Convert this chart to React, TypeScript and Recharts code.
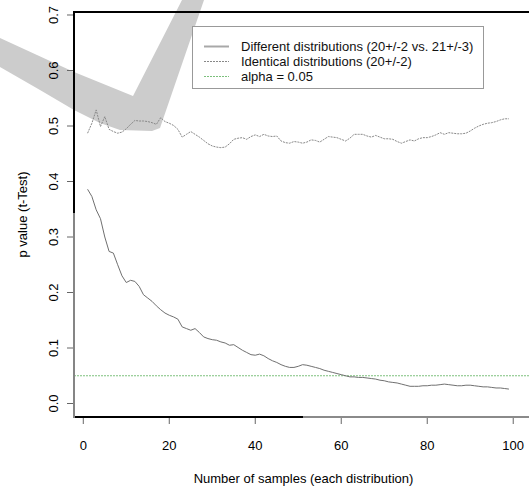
import { Label, Legend, Line, LineChart, ReferenceLine, XAxis, YAxis } from 'recharts'

// sample sizes 1..99
const SAMPLES = Array.from({ length: 99 }, (_, i) => i + 1)

// p values, different distributions (20+/-2 vs 21+/-3)
const DIFFERENT = [
  0.386, 0.373, 0.349, 0.333, 0.3, 0.274, 0.271, 0.25, 0.23, 0.218,
  0.222, 0.22, 0.211, 0.196, 0.19, 0.184, 0.176, 0.169, 0.163, 0.159,
  0.156, 0.152, 0.138, 0.135, 0.132, 0.135, 0.128, 0.12, 0.117, 0.115,
  0.114, 0.111, 0.109, 0.105, 0.106, 0.101, 0.096, 0.092, 0.088, 0.087,
  0.089, 0.086, 0.081, 0.077, 0.074, 0.07, 0.067, 0.065, 0.065, 0.067,
  0.07, 0.069, 0.067, 0.065, 0.063, 0.06, 0.058, 0.056, 0.054, 0.052,
  0.05, 0.048, 0.048, 0.047, 0.047, 0.046, 0.045, 0.044, 0.042, 0.041,
  0.039, 0.038, 0.037, 0.035, 0.033, 0.031, 0.031, 0.031, 0.032, 0.032,
  0.033, 0.033, 0.034, 0.035, 0.034, 0.033, 0.032, 0.032, 0.033, 0.033,
  0.032, 0.031, 0.03, 0.03, 0.029, 0.028, 0.028, 0.027, 0.026,
]

// p values, identical distributions (20+/-2)
const IDENTICAL = [
  0.487, 0.505, 0.529, 0.499, 0.517, 0.494, 0.49, 0.487, 0.489, 0.495,
  0.503, 0.51, 0.509, 0.509, 0.508, 0.506, 0.503, 0.515, 0.508, 0.505,
  0.501, 0.494, 0.48, 0.485, 0.49, 0.485, 0.48, 0.474, 0.468, 0.464,
  0.462, 0.461, 0.462, 0.468, 0.476, 0.478, 0.479, 0.476, 0.481, 0.484,
  0.481, 0.485, 0.482, 0.481, 0.482, 0.473, 0.47, 0.469, 0.472, 0.471,
  0.469, 0.471, 0.475, 0.474, 0.471, 0.476, 0.481, 0.48, 0.479, 0.476,
  0.473, 0.478, 0.485, 0.485, 0.485, 0.482, 0.48, 0.483, 0.48, 0.477,
  0.477, 0.476, 0.472, 0.469, 0.472, 0.475, 0.473, 0.477, 0.479, 0.479,
  0.481, 0.484, 0.488, 0.485, 0.488, 0.487, 0.486, 0.486, 0.487, 0.491,
  0.496, 0.5, 0.503, 0.505, 0.506, 0.508, 0.511, 0.513, 0.513,
]

const ALPHA = 0.05

const X_TICKS = [0, 20, 40, 60, 80, 100]
const Y_TICKS = [0, 0.1, 0.2, 0.3, 0.4, 0.5, 0.6, 0.7]
const X_DOMAIN = [-2.16, 104.6]
const Y_DOMAIN = [-0.0243, 0.7054]

const LEGEND_ITEMS = [
  { label: 'Different distributions (20+/-2 vs. 21+/-3)', color: '#a8a8a8', dash: undefined, width: 2 },
  { label: 'Identical distributions (20+/-2)', color: '#888', dash: '2 1', width: 1 },
  { label: 'alpha = 0.05', color: '#7cc07c', dash: '2 1', width: 1 },
]

const FONT = '"Liberation Sans", Arial, sans-serif'

const rows = SAMPLES.map((n, i) => ({ n, different: DIFFERENT[i], identical: IDENTICAL[i] }))

function YTick({ x, y, payload }: any) {
  const bx = x - 9
  return (
    <text x={bx} y={y} transform={`rotate(-90 ${bx} ${y})`} textAnchor="middle" fontSize={13} fontFamily={FONT} fill="#000">
      {payload.value.toFixed(1)}
    </text>
  )
}

function XTick({ x, y, payload }: any) {
  return (
    <text x={x} y={y + 26} textAnchor="middle" fontSize={13} fontFamily={FONT} fill="#000">
      {payload.value}
    </text>
  )
}

function renderLegend() {
  return (
    <div
      style={{
        width: 292,
        height: 63,
        border: '1px solid #999',
        background: '#fff',
        fontFamily: FONT,
        fontSize: 13,
        color: '#111',
        boxSizing: 'border-box',
        paddingTop: 12,
      }}
    >
      {LEGEND_ITEMS.map((item) => (
        <div key={item.label} style={{ display: 'flex', alignItems: 'center', height: 15 }}>
          <svg width={48} height={15} style={{ flex: 'none' }}>
            <line x1={11} x2={36} y1={7.5} y2={7.5} stroke={item.color} strokeWidth={item.width} strokeDasharray={item.dash} />
          </svg>
          <span style={{ whiteSpace: 'nowrap' }}>{item.label}</span>
        </div>
      ))}
    </div>
  )
}

export default function App() {
  return (
    <div style={{ position: 'absolute', left: 0, top: 0, width: 529, height: 488, overflow: 'hidden', background: '#fff' }}>
      {/* grey swoosh behind the plot */}
      <svg width={529} height={488} style={{ position: 'absolute', left: 0, top: 0 }}>
        <polygon
          points="0,38 74,72 133,96 182,0 204,0 160,128 152,131 120,130 100,123 74,110 40,90 0,67"
          fill="#cccccc"
        />
      </svg>
      <div style={{ position: 'absolute', left: 0, top: 0 }}>
        <LineChart width={534} height={488} data={rows} margin={{ top: 12, right: 1, bottom: 0, left: 0 }}>
          <XAxis
            dataKey="n"
            type="number"
            domain={X_DOMAIN}
            ticks={X_TICKS}
            allowDataOverflow
            height={71}
            stroke="#000"
            tickSize={7}
            tickMargin={0}
            tickLine={{ stroke: '#666' }}
            tick={<XTick />}
          >
            <Label
              content={({ viewBox }: any) => (
                <text x={viewBox.x + viewBox.width / 2} y={483} textAnchor="middle" fontSize={13} fontFamily={FONT} fill="#000">
                  Number of samples (each distribution)
                </text>
              )}
            />
          </XAxis>
          <YAxis
            type="number"
            domain={Y_DOMAIN}
            ticks={Y_TICKS}
            allowDataOverflow
            width={74}
            stroke="#000"
            tickSize={7}
            tickMargin={0}
            tickLine={{ stroke: '#666' }}
            tick={<YTick />}
          >
            <Label
              content={({ viewBox }: any) => {
                const cx = 27
                const cy = viewBox.y + viewBox.height / 2
                return (
                  <text x={cx} y={cy} transform={`rotate(-90 ${cx} ${cy})`} textAnchor="middle" fontSize={13} fontFamily={FONT} fill="#000">
                    p value (t-Test)
                  </text>
                )
              }}
            />
          </YAxis>
          <ReferenceLine y={ALPHA} stroke="#7cc07c" strokeDasharray="2 1" strokeWidth={1} />
          <Line
            type="linear"
            dataKey="identical"
            stroke="#888"
            strokeWidth={1}
            strokeDasharray="2 1"
            dot={false}
            isAnimationActive={false}
          />
          <Line type="linear" dataKey="different" stroke="#707070" strokeWidth={1} dot={false} isAnimationActive={false} />
          <Legend
            layout="vertical"
            align="center"
            verticalAlign="middle"
            content={renderLegend}
            wrapperStyle={{ left: 192, top: 26, width: 292, height: 63 }}
          />
        </LineChart>
      </div>
      {/* plot frame, with the grey overdraw seen on parts of it */}
      <div style={{ position: 'absolute', left: 73, top: 11, width: 2, height: 202, background: '#000' }} />
      <div style={{ position: 'absolute', left: 73, top: 11, width: 456, height: 2, background: '#000' }} />
      <div style={{ position: 'absolute', left: 73, top: 416, width: 230, height: 2, background: '#000' }} />
      <div style={{ position: 'absolute', left: 73, top: 213, width: 2, height: 205, background: '#858585' }} />
      <div style={{ position: 'absolute', left: 303, top: 416, width: 226, height: 2, background: '#8a8a8a' }} />
    </div>
  )
}
